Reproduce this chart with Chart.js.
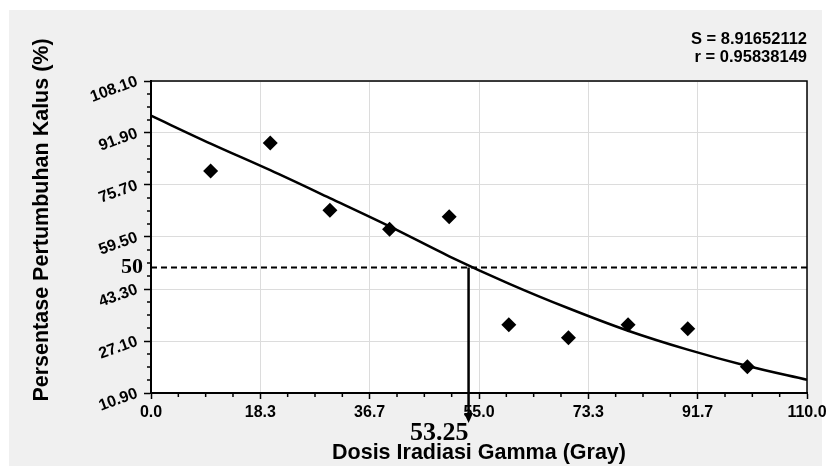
<!DOCTYPE html>
<html>
<head>
<meta charset="utf-8">
<title>Dosis Iradiasi Gamma</title>
<script src="https://cdn.jsdelivr.net/npm/chart.js@4.4.0/dist/chart.umd.min.js"></script>
<style>
  body { margin: 0; background: #fff; }
  canvas { display: block; }
</style>
</head>
<body>
<canvas id="grafik" width="831" height="466"></canvas>
<script>
// data pengamatan: dosis (Gray) dan pertumbuhan kalus (%)
var dosis = [10, 20, 30, 40, 50, 60, 70, 80, 90, 100];
var pertumbuhan = [80.1, 88.8, 67.8, 61.9, 65.8, 32.2, 28.1, 32.2, 30.9, 19.1];

// kurva regresi
var kurvaX = [0, 10, 20, 30, 40, 50, 60, 70, 80, 90, 100, 110];
var kurvaY = [97.3, 88.6, 80.3, 71.6, 62.8, 53.5, 45.0, 37.3, 30.3, 24.4, 19.3, 15.0];

// posisi label sumbu
var tickX = [0, 18.33, 36.67, 55, 73.33, 91.67, 110];
var tickY = [10.9, 27.1, 43.3, 59.5, 75.7, 91.9, 108.1];

// garis 50% dan dosis LD50
var batas = 50;
var dosisLD50 = 53.25;

var statistik = ['S = 8.91652112', 'r = 0.95838149'];

var judulX = 'Dosis Iradiasi Gamma (Gray)';
var judulY = 'Persentase Pertumbuhan Kalus (%)';

Chart.defaults.font.family = '"Liberation Sans", Arial, sans-serif';
Chart.defaults.color = '#000';

var titik = dosis.map(function (d, i) { return { x: d, y: pertumbuhan[i] }; });
var kurva = kurvaX.map(function (d, i) { return { x: d, y: kurvaY[i] }; });
var garis50 = [{ x: tickX[0], y: batas }, { x: tickX[tickX.length - 1], y: batas }];

// latar abu-abu, garis bantu kecil, panah LD50 dan teks
var dekorasi = {
  id: 'dekorasi',
  beforeDraw: function (chart) {
    var ctx = chart.ctx, a = chart.chartArea;
    ctx.save();
    ctx.fillStyle = '#fff';
    ctx.fillRect(0, 0, chart.width, chart.height);
    ctx.fillStyle = '#f0f0f0';
    ctx.fillRect(9, 10, 813, chart.height - 10);
    ctx.fillStyle = '#fff';
    ctx.fillRect(a.left, a.top, a.right - a.left, a.bottom - a.top);
    ctx.restore();
  },
  afterDraw: function (chart) {
    var ctx = chart.ctx, a = chart.chartArea;
    var sx = chart.scales.x, sy = chart.scales.y;
    var i, k, p;
    ctx.save();
    ctx.strokeStyle = '#000';
    ctx.fillStyle = '#000';

    // tick kecil (4 bagian per interval)
    ctx.lineWidth = 1.5;
    ctx.beginPath();
    for (i = 0; i < tickX.length - 1; i++) {
      for (k = 1; k < 4; k++) {
        p = sx.getPixelForValue(tickX[i] + (tickX[i + 1] - tickX[i]) * k / 4);
        ctx.moveTo(p, a.bottom);
        ctx.lineTo(p, a.bottom + 4);
      }
    }
    for (i = 0; i < tickY.length - 1; i++) {
      for (k = 1; k < 4; k++) {
        p = sy.getPixelForValue(tickY[i] + (tickY[i + 1] - tickY[i]) * k / 4);
        ctx.moveTo(a.left, p);
        ctx.lineTo(a.left - 4, p);
      }
    }
    ctx.stroke();

    // bingkai
    ctx.strokeRect(a.left, a.top, a.right - a.left, a.bottom - a.top);

    // panah LD50
    var ax = sx.getPixelForValue(dosisLD50);
    var ay = sy.getPixelForValue(batas);
    ctx.lineWidth = 2.5;
    ctx.beginPath();
    ctx.moveTo(ax, ay);
    ctx.lineTo(ax, a.bottom + 22);
    ctx.stroke();
    ctx.beginPath();
    ctx.moveTo(ax - 4.5, a.bottom + 20);
    ctx.lineTo(ax + 4.5, a.bottom + 20);
    ctx.lineTo(ax, a.bottom + 30);
    ctx.closePath();
    ctx.fill();

    ctx.textAlign = 'right';
    ctx.textBaseline = 'alphabetic';
    ctx.font = 'bold 26px "Liberation Serif", "Times New Roman", serif';
    ctx.fillText(dosisLD50.toFixed(2), ax, a.bottom + 47);

    ctx.textBaseline = 'middle';
    ctx.font = 'bold 22px "Liberation Serif", "Times New Roman", serif';
    ctx.fillText(String(batas), a.left - 8, ay);

    // nilai S dan r
    ctx.textBaseline = 'alphabetic';
    ctx.font = 'bold 16.5px "Liberation Sans", Arial, sans-serif';
    ctx.fillText(statistik[0], a.right, 44);
    ctx.fillText(statistik[1], a.right, 62);

    // judul sumbu
    ctx.font = 'bold 21.5px "Liberation Sans", Arial, sans-serif';
    ctx.textAlign = 'center';
    ctx.fillText(judulX, (a.left + a.right) / 2, 459);
    ctx.translate(42, 220);
    ctx.rotate(-Math.PI / 2);
    ctx.textBaseline = 'middle';
    ctx.fillText(judulY, 0, 0);
    ctx.restore();
  }
};

var ctx = document.getElementById('grafik');
var grafik = new Chart(ctx, {
  type: 'scatter',
  data: {
    datasets: [
      {
        data: titik,
        pointStyle: 'rectRot',
        pointRadius: 7.5,
        backgroundColor: '#000',
        borderColor: '#000',
        borderWidth: 0
      },
      {
        data: kurva,
        showLine: true,
        pointRadius: 0,
        borderColor: '#000',
        borderWidth: 2.5,
        cubicInterpolationMode: 'monotone'
      },
      {
        data: garis50,
        showLine: true,
        pointRadius: 0,
        borderColor: '#000',
        borderWidth: 2,
        borderDash: [6, 4]
      }
    ]
  },
  options: {
    responsive: false,
    animation: false,
    layout: { padding: { top: 81, right: 24, left: 0, bottom: 0 } },
    plugins: {
      legend: { display: false },
      tooltip: { enabled: false }
    },
    scales: {
      x: {
        type: 'linear',
        min: tickX[0],
        max: tickX[tickX.length - 1],
        afterBuildTicks: function (s) {
          s.ticks = tickX.map(function (v) { return { value: v }; });
        },
        afterFit: function (s) { s.height = 73; },
        grid: { color: '#dcdcdc', lineWidth: 1, tickColor: '#000', tickLength: 6, tickWidth: 1.5 },
        border: { color: '#000', width: 2 },
        ticks: {
          padding: 4,
          maxRotation: 0,
          font: { size: 16, weight: 'bold' },
          callback: function (v) { return v.toFixed(1); }
        }
      },
      y: {
        type: 'linear',
        min: tickY[0],
        max: tickY[tickY.length - 1],
        afterBuildTicks: function (s) {
          s.ticks = tickY.map(function (v) { return { value: v }; });
        },
        afterFit: function (s) { s.width = 151; },
        grid: { color: '#dcdcdc', lineWidth: 1, tickColor: '#000', tickLength: 7, tickWidth: 1.5 },
        border: { color: '#000', width: 2 },
        ticks: {
          padding: 7,
          minRotation: 20,
          maxRotation: 20,
          font: { size: 16, weight: 'bold' },
          callback: function (v) { return v.toFixed(2); }
        }
      }
    }
  },
  plugins: [dekorasi]
});
</script>
</body>
</html>
